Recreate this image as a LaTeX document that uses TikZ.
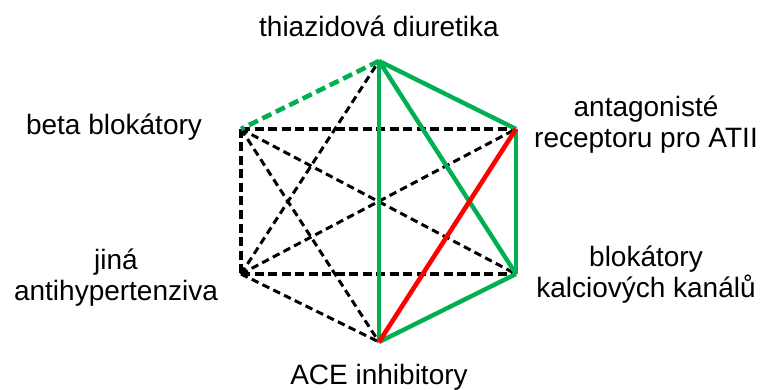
\documentclass[tikz,border=0pt]{standalone}
\usepackage{fontspec}
\setmainfont{Liberation Sans}
\begin{document}
\begin{tikzpicture}[x=1pt,y=-1pt,
  lbl/.style={font=\fontsize{28}{31}\selectfont, inner sep=0pt, align=center},
  thickdash/.style={black, line width=4.6pt, dash pattern=on 9pt off 4.5pt},
  thindash/.style={black, line width=3pt, dash pattern=on 7.5pt off 4.5pt},
  greendash/.style={okgreen, line width=4.6pt, dash pattern=on 10pt off 5pt},
  greenline/.style={okgreen, line width=4.4pt},
  greenthin/.style={okgreen, line width=3.6pt},
  redline/.style={red, line width=4.6pt}]
\definecolor{okgreen}{RGB}{0,176,80}
\useasboundingbox (0,0) rectangle (760,390);

% hexagon vertices
\coordinate (T)  at (379,61);
\coordinate (UR) at (516,129);
\coordinate (LR) at (516,274);
\coordinate (B)  at (379,342);
\coordinate (LL) at (241,274);
\coordinate (UL) at (241,129);

% labels
\node[lbl, anchor=base] (tl)  at (379,37)  {thiazidová diuretika};
\node[lbl, anchor=base] (ul)  at (114,135) {beta blokátory};
\node[lbl]              (url) at (646,125) {antagonisté\\receptoru pro ATII};
\node[lbl]              (lll) at (116,278) {jiná\\antihypertenziva};
\node[lbl]              (lrl) at (646,275) {blokátory\\kalciových kanálů};
\node[lbl, anchor=base] (bl)  at (379,384) {ACE inhibitory};

% black dashed combinations
\draw[thindash] (UL) -- (LR);
\draw[thindash] (UL) -- (B);
\draw[thindash] (LL) -- (T);
\draw[thindash] (LL) -- (UR);
\draw[thindash] (LL) -- (B);
\draw[thickdash] (UL) -- (UR);
\draw[thickdash] (UL) -- (LL);
\draw[thickdash] (LL) -- (LR);

% green combinations
\draw[greendash] (T) -- (UL);
\draw[greenline] (T) -- (UR);
\draw[greenline] (T) -- (LR);
\draw[greenthin] (T) -- (B);
\draw[greenthin] (UR) -- (LR);
\draw[greenline] (LR) -- (B);

% red combination
\draw[redline] (UR) -- (B);
\end{tikzpicture}
\end{document}
